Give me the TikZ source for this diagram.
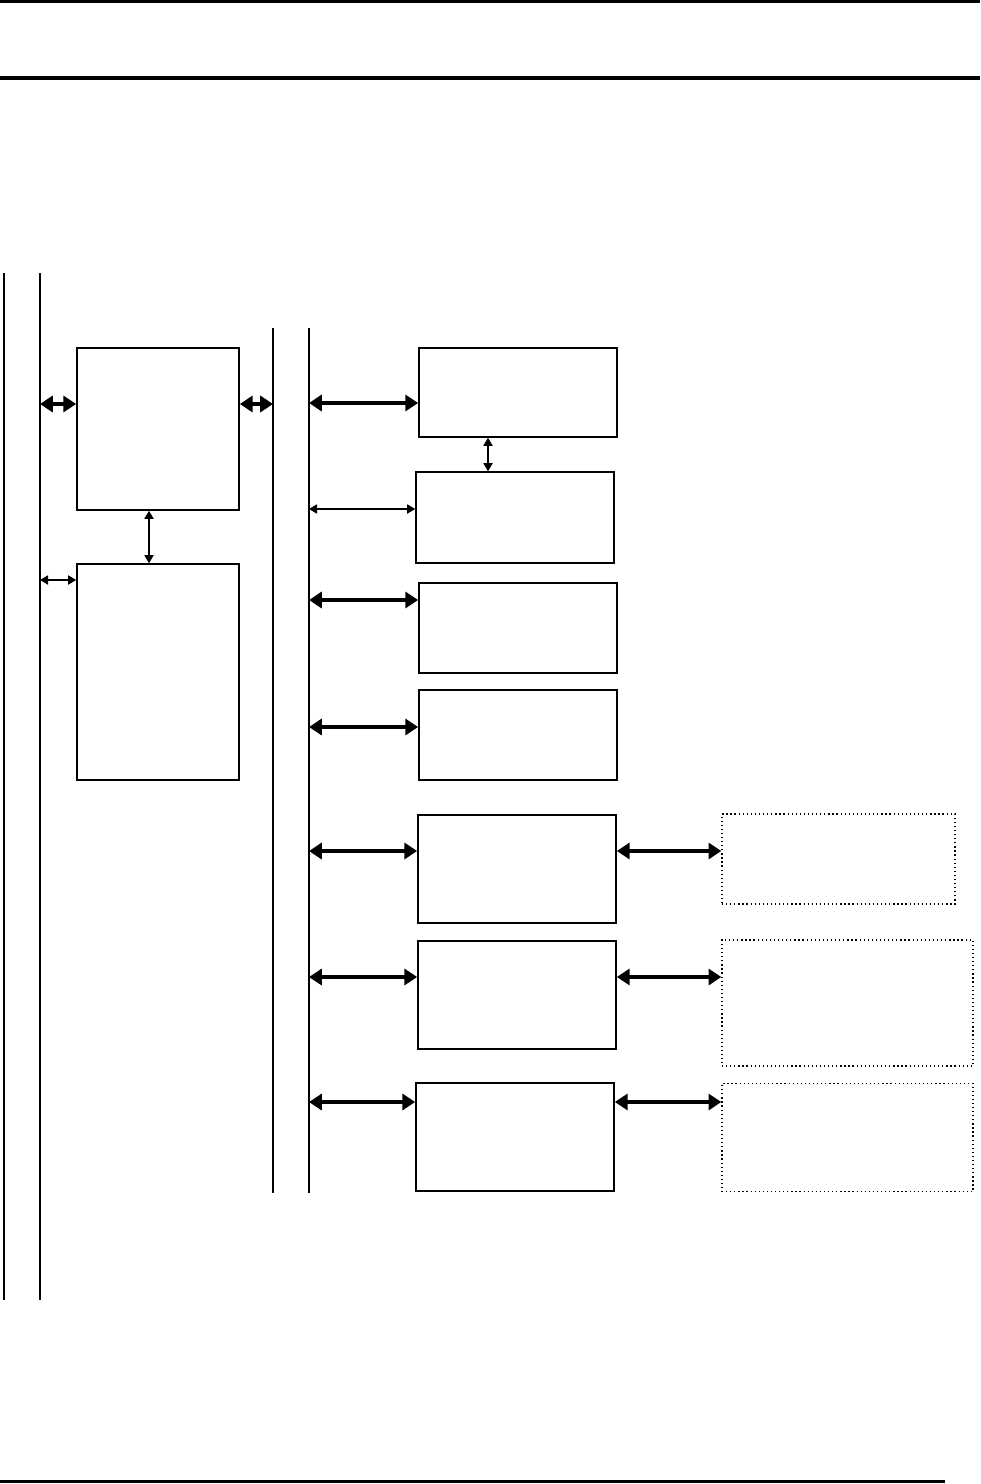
\documentclass[tikz,border=0pt]{standalone}
\usepackage{tikz}
\usetikzlibrary{arrows.meta, positioning, calc}

\begin{document}
\begin{tikzpicture}[
        x=0.025cm, y=-0.025cm,
        blockbox/.style={
            rectangle,
            draw=black,
            line width=1.1pt,
            inner sep=0pt
        },
        hostbox/.style={blockbox, minimum width=4.05cm},
        unitbox/.style={blockbox, minimum width=4.95cm},
        extbox/.style={rectangle, draw=black, dotted, line width=0.9pt, inner sep=0pt},
        busline/.style={draw=black, line width=0.9pt},
        pagerule/.style={draw=black, line width=2.6pt},
        thicklink/.style={line width=2.7pt, {Triangle[length=3.2mm,width=4mm]}-{Triangle[length=3.2mm,width=4mm]}},
        thinlink/.style={line width=0.8pt, {Triangle[length=2mm,width=2.3mm]}-{Triangle[length=2mm,width=2.3mm]}}
    ]
        \useasboundingbox (0,0) rectangle (980,1484);

        % page rules
        \draw[pagerule] (0,1.5) -- (980,1.5);
        \draw[pagerule] (0,78) -- (980,78);
        \draw[pagerule] (0,1481.5) -- (945,1481.5);

        % system bus and local bus
        \coordinate (sysA) at (4,273);
        \coordinate (sysB) at (40,273);
        \coordinate (locA) at (273,328);
        \coordinate (locB) at (309,328);
        \draw[busline] (sysA) -- ++(0,1027);
        \draw[busline] (sysB) -- ++(0,1027);
        \draw[busline] (locA) -- ++(0,865);
        \draw[busline] (locB) -- ++(0,865);

        % left column
        \node[hostbox, minimum height=4.05cm] (host) at (158,429) {};
        \node[hostbox, minimum height=5.4cm] (store) at (158,672) {};

        % right column
        \node[unitbox, minimum height=2.225cm] (dev1) at (518,392.5) {};
        \node[unitbox, minimum height=2.275cm] (dev2) at (515,517.5) {};
        \node[unitbox, minimum height=2.25cm] (dev3) at (518,628) {};
        \node[unitbox, minimum height=2.25cm] (dev4) at (518,735) {};
        \node[unitbox, minimum height=2.7cm] (dev5) at (517,869) {};
        \node[unitbox, minimum height=2.7cm] (dev6) at (517,995) {};
        \node[unitbox, minimum height=2.7cm] (dev7) at (515,1137) {};

        \node[extbox, minimum width=5.825cm, minimum height=2.25cm] (ext5) at (838.5,859) {};
        \node[extbox, minimum width=6.275cm, minimum height=3.15cm] (ext6) at (847.5,1003) {};
        \node[extbox, minimum width=6.275cm, minimum height=2.7cm] (ext7) at (847.5,1137.5) {};

        % links to the buses
        \coordinate (h1) at (0,404);
        \coordinate (h2) at (0,580);
        \draw[thicklink] (sysB |- h1) -- (host.west |- h1);
        \draw[thicklink] (host.east |- h1) -- (locA |- h1);
        \draw[thinlink] (sysB |- h2) -- (store.west |- h2);

        \coordinate (r1) at (0,403);
        \coordinate (r2) at (0,509);
        \coordinate (r3) at (0,600);
        \coordinate (r4) at (0,727);
        \coordinate (r5) at (0,851);
        \coordinate (r6) at (0,977);
        \coordinate (r7) at (0,1102);
        \draw[thicklink] (locB |- r1) -- (dev1.west |- r1);
        \draw[thinlink] (locB |- r2) -- (dev2.west |- r2);
        \draw[thicklink] (locB |- r3) -- (dev3.west |- r3);
        \draw[thicklink] (locB |- r4) -- (dev4.west |- r4);
        \draw[thicklink] (locB |- r5) -- (dev5.west |- r5);
        \draw[thicklink] (locB |- r6) -- (dev6.west |- r6);
        \draw[thicklink] (locB |- r7) -- (dev7.west |- r7);

        % links to the outside
        \draw[thicklink] (dev5.east |- r5) -- (ext5.west |- r5);
        \draw[thicklink] (dev6.east |- r6) -- (ext6.west |- r6);
        \draw[thicklink] (dev7.east |- r7) -- (ext7.west |- r7);

        % vertical links
        \coordinate (c0) at (149,0);
        \coordinate (c1) at (488,0);
        \draw[thinlink] (host.south -| c0) -- (store.north -| c0);
        \draw[thinlink] (dev1.south -| c1) -- (dev2.north -| c1);
    \end{tikzpicture}
\end{document}
